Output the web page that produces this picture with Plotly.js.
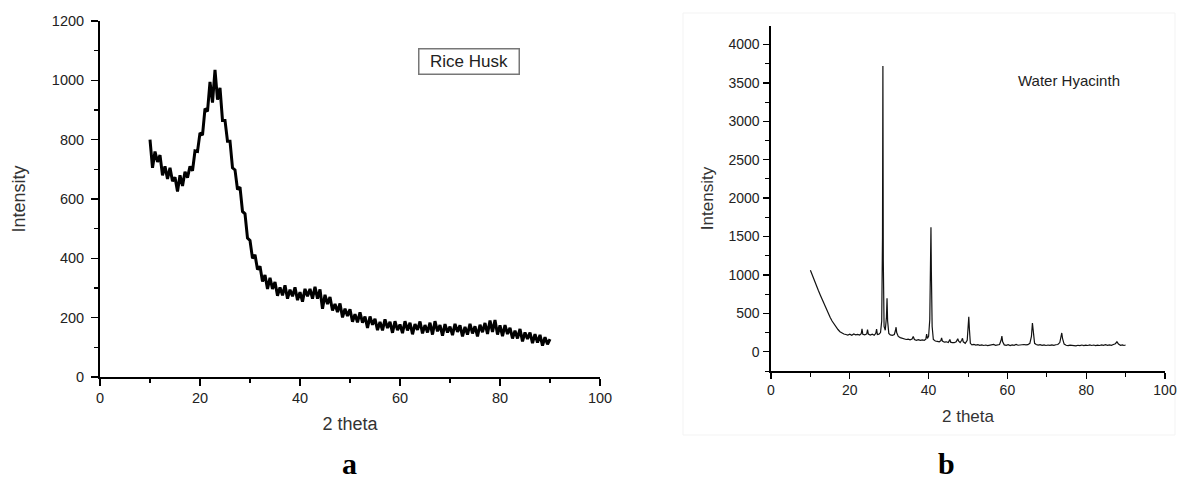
<!DOCTYPE html>
<html>
<head>
<meta charset="utf-8">
<script src="https://cdn.plot.ly/plotly-3.0.1.min.js"></script>
<style>
  html, body { margin: 0; padding: 0; background: #ffffff; }
  #chart { width: 1178px; height: 482px; }
</style>
</head>
<body>
<div id="chart"></div>
<script>
// ---- Panel a: Rice Husk (sampled every 0.5 deg from 10 to 90) ----
const riceStart = 10;
const riceStep = 0.5;
const riceIntensity = [
  800, 705, 760, 725, 748, 680, 710, 668, 705, 660,
  673, 625, 680, 644, 692, 672, 710, 695, 762, 760,
  823, 815, 905, 895, 995, 925, 1035, 935, 975, 865,
  865, 795, 795, 705, 698, 632, 640, 558, 550, 468,
  460, 400, 412, 362, 373, 322, 344, 297, 334, 297,
  320, 274, 302, 275, 309, 264, 294, 272, 302, 259,
  286, 254, 297, 272, 297, 264, 304, 264, 295, 230,
  277, 246, 270, 224, 246, 219, 248, 201, 230, 206,
  228, 186, 212, 184, 218, 183, 204, 165, 204, 176,
  196, 158, 186, 157, 194, 165, 186, 149, 188, 158,
  177, 148, 188, 157, 183, 144, 178, 159, 187, 147,
  175, 150, 183, 143, 188, 154, 175, 139, 178, 150,
  170, 141, 179, 152, 174, 137, 169, 143, 179, 147,
  171, 137, 176, 151, 182, 145, 190, 152, 192, 143,
  174, 138, 175, 145, 166, 130, 156, 130, 162, 120,
  150, 128, 150, 114, 144, 116, 142, 106, 134, 110,
  128
];

// ---- Panel b: Water Hyacinth ----
const hyaTheta = [
  10, 10.5, 11, 11.5, 12, 12.5, 13, 13.5, 14, 14.5,
  15, 15.5, 16, 16.5, 17, 17.5, 18, 18.5, 19, 19.5,
  20, 20.5, 21, 21.5, 22, 22.5, 22.9, 23.1, 23.3, 23.8,
  24.3, 24.5, 24.7, 25.2, 25.7, 26.2, 26.6, 26.8, 27, 27.4,
  27.8, 28.1, 28.3, 28.4, 28.5, 28.7, 29, 29.3, 29.45, 29.6,
  29.9, 30.3, 30.8, 31.3, 31.6, 31.75, 31.9, 32.3, 32.8, 33.3,
  33.8, 34.3, 34.8, 35.3, 35.8, 36.1, 36.4, 36.9, 37.4, 37.9,
  38.4, 38.9, 39.3, 39.5, 39.7, 40.0, 40.3, 40.5, 40.6, 40.7,
  40.9, 41.2, 41.7, 42.2, 42.7, 43.1, 43.3, 43.5, 44, 44.5,
  45, 45.4, 45.6, 46, 46.5, 47, 47.4, 47.6, 48, 48.4,
  48.6, 48.8, 49.3, 49.8, 50.05, 50.2, 50.35, 50.6, 51, 51.5,
  52, 52.5, 53, 53.5, 54, 54.5, 55, 55.5, 56, 56.5,
  57, 57.5, 58, 58.4, 58.6, 58.8, 59.2, 59.7, 60.2, 60.7,
  61.2, 61.7, 62.2, 62.7, 63.2, 63.7, 64.2, 64.7, 65.2, 65.7,
  66.1, 66.35, 66.6, 66.9, 67.3, 67.8, 68.3, 68.8, 69.3, 69.8,
  70.3, 70.8, 71.3, 71.8, 72.3, 72.8, 73.3, 73.6, 73.8, 74.0,
  74.4, 74.9, 75.4, 75.9, 76.4, 76.9, 77.4, 77.9, 78.4, 78.9,
  79.4, 79.9, 80.4, 80.9, 81.4, 81.9, 82.4, 82.9, 83.4, 83.9,
  84.4, 84.9, 85.4, 85.9, 86.4, 86.9, 87.4, 87.8, 88.2, 88.7,
  89.2, 89.6, 90
];
const hyaIntensity = [
  1060, 990, 930, 865, 800, 740, 680, 615, 560, 500,
  450, 400, 360, 320, 290, 262, 245, 232, 225, 218,
  228, 215, 232, 220, 226, 218, 235, 300, 228, 220,
  232, 290, 230, 218, 230, 215, 240, 295, 225, 230,
  250, 400, 1500, 3720, 1200, 330, 280, 450, 695, 400,
  240, 220, 215, 225, 280, 320, 250, 200, 185, 175,
  168, 160, 165, 155, 165, 200, 160, 150, 158, 148,
  155, 150, 165, 230, 175, 200, 420, 1250, 1620, 1050,
  330, 160, 140, 135, 130, 145, 180, 140, 125, 130,
  120, 160, 125, 120, 118, 130, 170, 140, 120, 150,
  175, 130, 110, 150, 330, 455, 300, 110, 90, 95,
  88, 92, 85, 90, 82, 88, 80, 86, 82, 95,
  85, 90, 95, 150, 205, 130, 90, 85, 92, 82,
  90, 85, 95, 85, 90, 88, 95, 90, 92, 110,
  200, 375, 220, 110, 95, 88, 92, 85, 90, 82,
  88, 84, 90, 85, 92, 95, 120, 190, 245, 170,
  100, 85, 80, 86, 80, 84, 78, 85, 80, 88,
  80, 86, 82, 90, 82, 88, 80, 86, 82, 90,
  84, 92, 85, 90, 85, 95, 105, 130, 100, 85,
  90, 82, 88
];

const xTickVals = [0, 20, 40, 60, 80, 100];
const riceYTicks = [0, 200, 400, 600, 800, 1000, 1200];
const hyaYTicks = [0, 500, 1000, 1500, 2000, 2500, 3000, 3500, 4000];

const W = 1178, H = 482;
const px = v => v / W;
const py = v => 1 - v / H;

const sans = "'Liberation Sans', Arial, sans-serif";
const serif = "'Liberation Serif', 'Times New Roman', serif";
const tickFontL = {family: sans, size: 14.5, color: '#222'};
const tickFontR = {family: sans, size: 14, color: '#222'};

const traces = [
  {
    type: 'scatter', mode: 'lines',
    y: riceIntensity, x0: riceStart, dx: riceStep,
    xaxis: 'x', yaxis: 'y',
    line: {color: '#000000', width: 3},
    hoverinfo: 'skip', showlegend: false
  },
  {
    type: 'scatter', mode: 'lines',
    x: hyaTheta, y: hyaIntensity,
    xaxis: 'x2', yaxis: 'y2',
    line: {color: '#111111', width: 1.2},
    hoverinfo: 'skip', showlegend: false
  }
];

const axisCommon = {
  showgrid: false, zeroline: false, showline: true,
  linecolor: '#000', ticks: 'outside', tickcolor: '#000',
  fixedrange: true
};

const layout = {
  width: W, height: H,
  margin: {l: 0, r: 0, t: 0, b: 0},
  paper_bgcolor: '#ffffff', plot_bgcolor: '#ffffff',
  showlegend: false,
  xaxis: Object.assign({}, axisCommon, {
    domain: [px(100), px(600)], range: [0, 100],
    tickvals: xTickVals, ticklen: 7, tickwidth: 1.5, linewidth: 2,
    minor: {dtick: 10, tick0: 0, ticks: 'outside', ticklen: 4, tickcolor: '#000', tickwidth: 1.2},
    tickfont: tickFontL, anchor: 'y',
    title: {text: '2 theta', font: {family: sans, size: 18, color: '#333'}, standoff: 12}
  }),
  yaxis: Object.assign({}, axisCommon, {
    domain: [py(377), py(21)], range: [0, 1200],
    tickvals: riceYTicks, ticklen: 7, tickwidth: 1.5, linewidth: 2,
    minor: {dtick: 100, tick0: 0, ticks: 'outside', ticklen: 4, tickcolor: '#000', tickwidth: 1.2},
    tickfont: tickFontL, anchor: 'x', ticklabelstandoff: 4,
    title: {text: 'Intensity', font: {family: sans, size: 18, color: '#333'}, standoff: 22}
  }),
  xaxis2: Object.assign({}, axisCommon, {
    domain: [px(771), px(1165)], range: [0, 100],
    tickvals: xTickVals, ticklen: 6, tickwidth: 1.3, linewidth: 1.6,
    minor: {dtick: 10, tick0: 0, ticks: 'outside', ticklen: 4, tickcolor: '#000', tickwidth: 1},
    tickfont: tickFontR, anchor: 'y2',
    title: {text: '2 theta', font: {family: sans, size: 17, color: '#333'}, standoff: 12}
  }),
  yaxis2: Object.assign({}, axisCommon, {
    domain: [py(371), py(26)], range: [-250, 4240],
    tickvals: hyaYTicks, ticklen: 6, tickwidth: 1.3, linewidth: 1.6,
    minor: {dtick: 250, tick0: 0, ticks: 'outside', ticklen: 4, tickcolor: '#000', tickwidth: 1},
    tickfont: tickFontR, anchor: 'x2', ticklabelstandoff: 1,
    title: {text: 'Intensity', font: {family: sans, size: 17, color: '#333'}, standoff: 10}
  }),
  annotations: [
    {
      xref: 'x', yref: 'y', x: 73.7, y: 1062, text: 'Rice Husk', showarrow: false,
      font: {family: sans, size: 17, color: '#222'},
      bordercolor: '#777', borderwidth: 1.5, borderpad: 2, width: 95, height: 20,
      bgcolor: '#ffffff'
    },
    {
      xref: 'x2', yref: 'y2', x: 75.6, y: 3536, text: 'Water Hyacinth', showarrow: false,
      font: {family: sans, size: 15, color: '#222'}
    },
    {
      xref: 'paper', yref: 'paper', x: px(350), y: 0, text: 'a', showarrow: false,
      xanchor: 'center', yanchor: 'bottom',
      font: {family: serif, size: 30, color: '#000', weight: 'bold'}
    },
    {
      xref: 'paper', yref: 'paper', x: px(946), y: 0, text: 'b', showarrow: false,
      xanchor: 'center', yanchor: 'bottom',
      font: {family: serif, size: 30, color: '#000', weight: 'bold'}
    }
  ],
  shapes: [
    {
      type: 'rect', xref: 'paper', yref: 'paper',
      x0: px(683), x1: px(1175), y0: py(435), y1: py(13),
      line: {color: '#f3f3f3', width: 1}, fillcolor: 'rgba(0,0,0,0)', layer: 'below'
    }
  ]
};

Plotly.newPlot('chart', traces, layout, {displayModeBar: false, staticPlot: true});
</script>
</body>
</html>
